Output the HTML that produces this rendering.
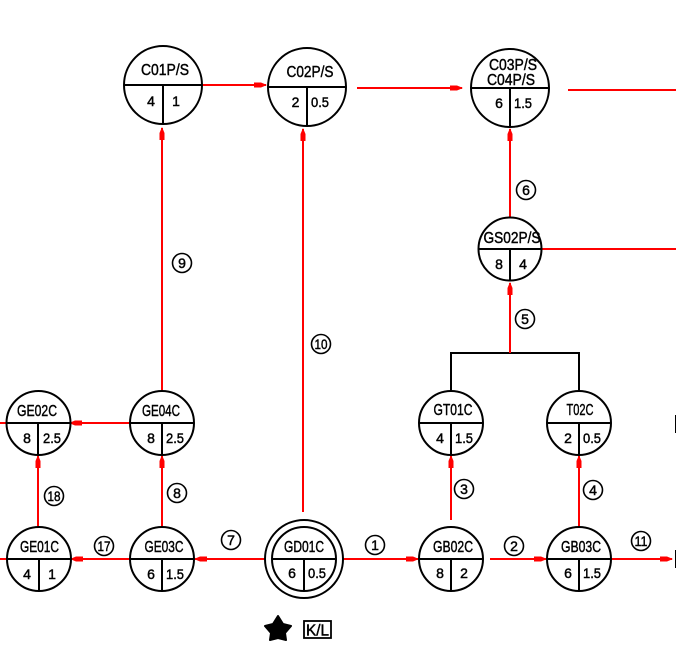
<!DOCTYPE html>
<html><head><meta charset="utf-8"><style>
html,body{margin:0;padding:0;background:#fff}
svg{display:block}
text{font-family:"Liberation Sans",sans-serif;fill:#000;text-anchor:middle;stroke:#000;stroke-width:.45}
.r{stroke:#f00;stroke-width:2;fill:none}
.k{stroke:#000;stroke-width:2;fill:none}
.t{stroke:#000;stroke-width:1.6;fill:#fff}
</style></head><body>
<svg width="676" height="653" viewBox="0 0 676 653" xmlns="http://www.w3.org/2000/svg">
<defs>
<path id="ar" d="M1 0L-5 -2.500H-12V2.500H-5Z" fill="#f00"/>
</defs>
<g class="r">
<path d="M202 85H266"/><path d="M357 88H462"/><path d="M568 90H676"/><path d="M542 249H676"/>
<path d="M510 218V129"/><path d="M510 353V283"/>
<path d="M162 391V128"/><path d="M303 512V129"/>
<path d="M131 423H70"/><path d="M162 527V456"/><path d="M38 527V456"/>
<path d="M131 559H71"/><path d="M265 559H195"/><path d="M343 559H418"/>
<path d="M451 520V456"/><path d="M490 559H546"/><path d="M579 527V456"/><path d="M611 559H672"/>
<path d="M0 423H6"/><path d="M0 559H7"/>
</g>
<use href="#ar" transform="translate(266 85)"/>
<use href="#ar" transform="translate(462 88)"/>
<use href="#ar" transform="translate(510 129) rotate(-90)"/>
<use href="#ar" transform="translate(510 283) rotate(-90)"/>
<use href="#ar" transform="translate(162 128) rotate(-90)"/>
<use href="#ar" transform="translate(303 129) rotate(-90)"/>
<use href="#ar" transform="translate(70 423) rotate(180)"/>
<use href="#ar" transform="translate(162 456) rotate(-90)"/>
<use href="#ar" transform="translate(38 456) rotate(-90)"/>
<use href="#ar" transform="translate(71 559) rotate(180)"/>
<use href="#ar" transform="translate(195 559) rotate(180)"/>
<use href="#ar" transform="translate(418 559)"/>
<use href="#ar" transform="translate(451 456) rotate(-90)"/>
<use href="#ar" transform="translate(546 559)"/>
<use href="#ar" transform="translate(579 456) rotate(-90)"/>
<use href="#ar" transform="translate(672 559)"/>
<path class="k" d="M451 392V353H579V392"/>
<path d="M510 353V340" class="r"/>
<path d="M676 415V433M676 550V568" class="k"/>

<!-- nodes -->
<g class="k">
<circle cx="163" cy="85" r="39"/><path d="M124 85H202M163 85V124"/>
<circle cx="307" cy="87" r="39"/><path d="M268 87H346M307 87V126"/>
<circle cx="510" cy="88" r="39"/><path d="M471 88H549M510 88V127"/>
<circle cx="510" cy="249" r="31.5"/><path d="M479 249H542M510 249V281"/>
<circle cx="38.500" cy="423" r="32"/><path d="M7 423H70M38 423V455"/>
<circle cx="162" cy="423" r="32"/><path d="M130 423H194M162 423V455"/>
<circle cx="39" cy="559" r="32"/><path d="M7 559H71M39 559V591"/>
<circle cx="162" cy="559" r="32"/><path d="M130 559H194M162 559V591"/>
<circle cx="304" cy="559" r="39"/><circle cx="304" cy="559" r="32"/><path d="M272 559H336M304 559V591"/>
<circle cx="451" cy="559" r="32"/><path d="M419 559H483M451 559V591"/>
<circle cx="579" cy="559" r="32"/><path d="M547 559H611M579 559V591"/>
<circle cx="451" cy="423" r="32"/><path d="M419 423H483M451 423V455"/>
<circle cx="579" cy="423" r="32"/><path d="M547 423H611M579 423V455"/>
</g>

<!-- node titles -->
<g font-size="16">
<text x="165" y="75" textLength="48" lengthAdjust="spacingAndGlyphs">C01P/S</text>
<text x="310" y="77" textLength="47" lengthAdjust="spacingAndGlyphs">C02P/S</text>
<text x="513" y="70" textLength="48" lengthAdjust="spacingAndGlyphs">C03P/S</text>
<text x="511" y="85" textLength="48" lengthAdjust="spacingAndGlyphs">C04P/S</text>
<text x="512" y="243" textLength="57" lengthAdjust="spacingAndGlyphs">GS02P/S</text>
<text x="37" y="416" textLength="40" lengthAdjust="spacingAndGlyphs">GE02C</text>
<text x="161" y="416" textLength="38" lengthAdjust="spacingAndGlyphs">GE04C</text>
<text x="39.500" y="552" textLength="39" lengthAdjust="spacingAndGlyphs">GE01C</text>
<text x="164" y="552" textLength="39" lengthAdjust="spacingAndGlyphs">GE03C</text>
<text x="304" y="552" textLength="40" lengthAdjust="spacingAndGlyphs">GD01C</text>
<text x="453" y="552" textLength="40" lengthAdjust="spacingAndGlyphs">GB02C</text>
<text x="581" y="552" textLength="40" lengthAdjust="spacingAndGlyphs">GB03C</text>
<text x="453" y="415" textLength="39" lengthAdjust="spacingAndGlyphs">GT01C</text>
<text x="580" y="415" textLength="27" lengthAdjust="spacingAndGlyphs">T02C</text>
</g>

<!-- node values -->
<g font-size="14">
<text x="151" y="106">4</text><text x="176" y="106">1</text>
<text x="295.500" y="107">2</text><text x="320" y="107" textLength="18" lengthAdjust="spacingAndGlyphs">0.5</text>
<text x="499" y="108">6</text><text x="523" y="108" textLength="18" lengthAdjust="spacingAndGlyphs">1.5</text>
<text x="499" y="269">8</text><text x="523" y="269">4</text>
<text x="27" y="443">8</text><text x="52" y="443" textLength="18" lengthAdjust="spacingAndGlyphs">2.5</text>
<text x="151" y="443">8</text><text x="175" y="443" textLength="18" lengthAdjust="spacingAndGlyphs">2.5</text>
<text x="27" y="579">4</text><text x="52" y="579">1</text>
<text x="151" y="579">6</text><text x="175" y="579" textLength="18" lengthAdjust="spacingAndGlyphs">1.5</text>
<text x="292" y="578">6</text><text x="317" y="578" textLength="18" lengthAdjust="spacingAndGlyphs">0.5</text>
<text x="440" y="578">8</text><text x="464" y="578">2</text>
<text x="568" y="578">6</text><text x="592" y="578" textLength="18" lengthAdjust="spacingAndGlyphs">1.5</text>
<text x="440" y="443">4</text><text x="464" y="443" textLength="18" lengthAdjust="spacingAndGlyphs">1.5</text>
<text x="568" y="443">2</text><text x="592" y="443" textLength="18" lengthAdjust="spacingAndGlyphs">0.5</text>
</g>

<!-- numbered bubbles -->
<g class="t">
<circle cx="375" cy="545" r="9.500"/><circle cx="514" cy="546" r="9.500"/><circle cx="464" cy="489" r="9.500"/>
<circle cx="593" cy="490" r="9.500"/><circle cx="525" cy="319" r="9.500"/><circle cx="526" cy="190" r="9.500"/>
<circle cx="231" cy="540" r="9.500"/><circle cx="177" cy="493" r="9.500"/><circle cx="182" cy="263" r="9.500"/>
<circle cx="321" cy="344" r="9.500"/><circle cx="641" cy="541" r="9.500"/><circle cx="104" cy="546" r="9.500"/>
<circle cx="54" cy="496" r="9.500"/>
</g>
<g font-size="14">
<text x="375" y="550">1</text>
<text x="514" y="551">2</text>
<text x="464" y="494">3</text>
<text x="593" y="495">4</text>
<text x="525" y="324">5</text>
<text x="526" y="195">6</text>
<text x="231" y="545">7</text>
<text x="177" y="498">8</text>
<text x="182" y="268">9</text>
<text x="321" y="349" textLength="13" lengthAdjust="spacingAndGlyphs">10</text>
<text x="641" y="546" textLength="13" lengthAdjust="spacingAndGlyphs">11</text>
<text x="104" y="551" textLength="13" lengthAdjust="spacingAndGlyphs">17</text>
<text x="54" y="501" textLength="13" lengthAdjust="spacingAndGlyphs">18</text>
</g>

<!-- legend -->
<polygon points="278,616 283,624 291,626 285,633 286,640 278,638 270,640 271,633 265,626 273,624" fill="#000" stroke="#000" stroke-width="2" stroke-linejoin="round"/>
<rect x="304" y="621" width="27" height="17" fill="#fff" stroke="#000" stroke-width="1.8"/>
<text x="317.500" y="635.500" font-size="16" textLength="23" lengthAdjust="spacingAndGlyphs">K/L</text>
</svg>
</body></html>
